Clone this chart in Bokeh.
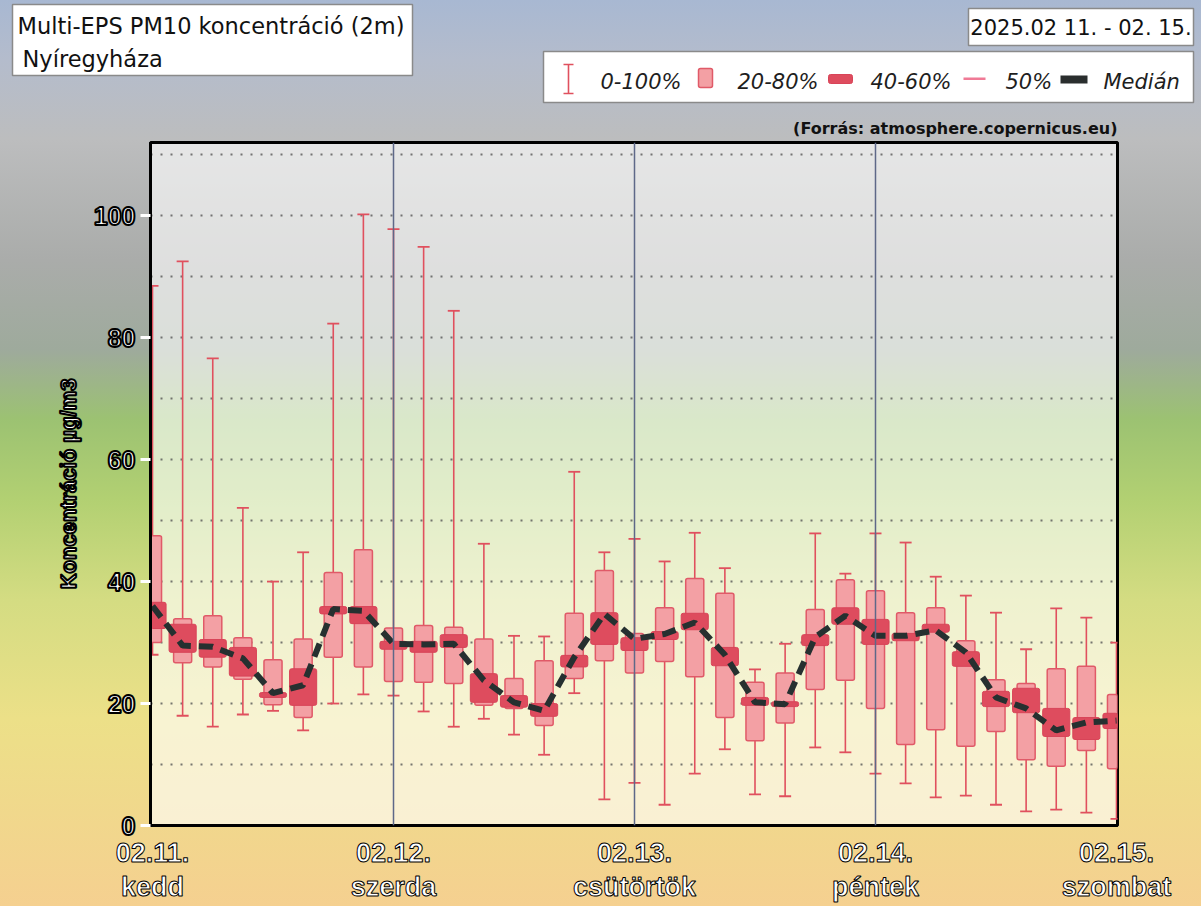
from bokeh.plotting import figure
from bokeh.layouts import column
from bokeh.models import ColumnDataSource, Span, FixedTicker, Range1d
from bokeh.core.properties import value
from bokeh.embed import file_html
from bokeh.resources import INLINE

# ---------------- data ----------------
hours = list(range(0, 97, 3))
p_min = [28, 18, 16.2, 18.2, 18.8, 15.6, 20, 21.5, 21.3, 18.7, 16.2, 17.5, 14.9, 11.6, 21.7, 4.3, 7,
         3.4, 8.5, 12.5, 5.1, 4.8, 12.8, 12, 8.5, 6.9, 4.6, 4.9, 3.4, 2.3, 2.6, 2.1, 1.1]
p20 = [30, 26.7, 26, 24, 19.8, 17.7, 27.6, 26, 23.6, 23.5, 23.3, 19.7, 19.2, 16.4, 24.1, 27, 25,
       26.9, 24.4, 17.7, 13.9, 16.8, 22.3, 23.8, 19.2, 13.3, 15.7, 13, 15.4, 10.8, 9.7, 12.3, 9.3]
p40 = [32.3, 28.4, 27.6, 24.5, 21, 19.7, 34.7, 33.1, 28.9, 28.4, 29.2, 20.2, 19.4, 17.9, 26, 29.7, 28.7,
       30.5, 32.1, 26.2, 19.7, 19.5, 29.5, 33, 29.7, 30.3, 31.7, 26.1, 19.5, 18.5, 14.6, 14.1, 15.9]
median = [36, 29.5, 29.3, 27.4, 21.7, 23, 35.5, 35.2, 29.8, 29.7, 29.8, 23.8, 20.2, 18.8, 27.6, 34.7, 30.6,
          31.4, 33.3, 28, 20.2, 19.9, 30.9, 34.4, 31.1, 31.1, 32, 28.4, 21, 19.2, 15.6, 16.9, 17.2]
p60 = [36.6, 33, 30.5, 29.2, 21.8, 25.7, 35.9, 35.9, 30.2, 30.2, 31.3, 24.9, 21.3, 20, 27.9, 34.9, 30.8,
       31.8, 34.8, 29.2, 21, 20.3, 31.3, 35.7, 33.8, 31.5, 33, 28.5, 22, 22.5, 19.2, 17.7, 18.4]
p80 = [47.5, 33.9, 34.4, 30.8, 27.2, 30.6, 41.5, 45.2, 32.4, 32.8, 32.5, 30.6, 24.1, 27, 34.8, 41.8, 31.5,
       35.7, 40.5, 38.1, 23.5, 25, 35.4, 40.3, 38.5, 34.9, 35.7, 30.3, 23.9, 23.3, 25.7, 26.1, 21.5]
p_max = [88.5, 92.5, 76.6, 52.1, 40, 44.8, 82.3, 100.2, 97.8, 94.9, 84.4, 46.2, 31.1, 31, 58, 44.8, 47,
         43.3, 48, 42.2, 25.6, 29.8, 47.9, 41.3, 47.9, 46.4, 40.8, 37.7, 34.9, 28.9, 35.6, 34.1, 30]

day_ticks = [0, 24, 48, 72, 96]
day_labels = ["02.11.\nkedd", "02.12.\nszerda", "02.13.\ncsütörtök", "02.14.\npéntek", "02.15.\nszombat"]
y_ticks = [0, 20, 40, 60, 80, 100]
y_grid = [10, 20, 30, 40, 50, 60, 70, 80, 90, 100, 110]

title_line1 = "Multi-EPS PM10 koncentráció (2m)"
title_line2 = "Nyíregyháza"
date_text = "2025.02 11. - 02. 15."
source_text = "(Forrás: atmosphere.copernicus.eu)"
legend_labels = ["0-100%", "20-80%", "40-60%", "50%", "Medián"]
y_title = "Koncentráció µg/m3"

RED = "#e0505e"
BOX_FILL, BOX_LINE = "#f3a0a4", "#e05a68"
MID_FILL, MID_LINE = "#de4c5e", "#d84458"
P50_COL = "#f07a96"
MED_COL = "#263030"

W = 1201
HDR_H = 140
MAIN_H = 766

# ---------------- header (title boxes, legend, source) in page pixels ----------------
hdr = figure(width=W, height=HDR_H, output_backend="svg", toolbar_location=None,
             x_range=Range1d(0, W), y_range=Range1d(HDR_H, 0),
             x_axis_type=None, y_axis_type=None, min_border=0, title_location=None)
hdr.frame_align = False
hdr.border_fill_alpha = 0
hdr.background_fill_alpha = 0
hdr.outline_line_color = None
hdr.grid.visible = False

hdr.quad(left=[12], right=[412], top=[4], bottom=[75], fill_color="white",
         line_color="#8a8a8a", line_width=1.5)
hdr.text(x=[17, 22], y=[25, 58], text=[title_line1, title_line2], text_align="left",
         text_baseline="middle", text_font=value("DejaVu Sans"), text_font_size="22.5px",
         text_color="#111111")
hdr.quad(left=[968], right=[1193], top=[8], bottom=[45], fill_color="white",
         line_color="#8a8a8a", line_width=1.5)
hdr.text(x=[1080.5], y=[27], text=[date_text], text_align="center", text_baseline="middle",
         text_font=value("DejaVu Sans"), text_font_size="21px", text_color="#111111")

# legend
hdr.quad(left=[543], right=[1193], top=[51], bottom=[102], fill_color="white",
         line_color="#8a8a8a", line_width=1.5)
hdr.segment(x0=[568, 563, 563], y0=[64, 64, 93], x1=[568, 573, 573], y1=[93, 64, 93],
            line_color=RED, line_width=1.6)
hdr.quad(left=[698], right=[712], top=[68], bottom=[87], fill_color=BOX_FILL,
         line_color=BOX_LINE, line_width=1.5, border_radius=2)
hdr.quad(left=[828], right=[852], top=[74], bottom=[83], fill_color=MID_FILL,
         line_color=MID_LINE, line_width=1, border_radius=2)
hdr.quad(left=[963], right=[985], top=[77], bottom=[79.5], fill_color=P50_COL, line_color=None)
hdr.quad(left=[1060], right=[1087], top=[75], bottom=[83], fill_color="#2a2e2e", line_color=None)
hdr.text(x=[600, 737, 870, 1005, 1103], y=[81] * 5, text=legend_labels, text_align="left",
         text_baseline="middle", text_font=value("DejaVu Sans"), text_font_style="italic",
         text_font_size="21px", text_color="#1e1e1e")

hdr.text(x=[1117], y=[128], text=[source_text], text_align="right", text_baseline="middle",
         text_font=value("DejaVu Sans"), text_font_style="bold", text_font_size="16px",
         text_color="#111111")

# ---------------- main chart ----------------
p = figure(width=W, height=MAIN_H, output_backend="svg", toolbar_location=None,
           x_range=Range1d(-0.2, 96.1), y_range=Range1d(0, 112), title_location=None,
           min_border_left=150, min_border_right=W - 1117, min_border_top=2,
           min_border_bottom=MAIN_H - 2 - 683)
p.frame_align = False
p.border_fill_alpha = 0
p.background_fill_color = "white"
p.background_fill_alpha = 0.62
p.outline_line_color = "black"
p.outline_line_width = 3

src = ColumnDataSource(dict(t=hours, pmin=p_min, p20=p20, p40=p40, med=median, p60=p60, p80=p80, pmax=p_max))

p.segment(x0="t", y0="pmin", x1="t", y1="pmax", source=src, line_color=RED, line_width=1.6)
p.scatter(x="t", y="pmin", source=src, marker="dash", size=12, line_color=RED, line_width=1.8)
p.scatter(x="t", y="pmax", source=src, marker="dash", size=12, line_color=RED, line_width=1.8)
p.vbar(x="t", width=1.8, bottom="p20", top="p80", source=src, fill_color=BOX_FILL,
       line_color=BOX_LINE, line_width=1.5, border_radius=2)
p.vbar(x="t", width=2.7, bottom="p40", top="p60", source=src, fill_color=MID_FILL,
       line_color=MID_LINE, line_width=1, border_radius=2)
p.line(x="t", y="med", source=src, line_color=MED_COL, line_width=6, line_dash="14 8")

for d in day_ticks[1:-1]:
    p.add_layout(Span(location=d, dimension="height", line_color="#5e6888", line_width=1.5))

p.xgrid.visible = False
p.ygrid.ticker = FixedTicker(ticks=y_grid)
p.ygrid.grid_line_color = "#555555"
p.ygrid.grid_line_alpha = 0.8
p.ygrid.grid_line_width = 2
p.ygrid.grid_line_dash = "2 8"

AX_FONT = "Liberation Sans"
for ax in (p.xaxis[0], p.yaxis[0]):
    ax.axis_line_width = 3
    ax.axis_line_color = "black"
    ax.major_label_text_color = "white"
    ax.major_label_text_font = AX_FONT
    ax.major_label_text_font_style = "bold"
    ax.major_label_text_outline_color = "black"

# y axis: invisible (empty) minor ticks only fix the stroke width used for label outlines
p.yaxis.minor_tick_line_color = "black"
p.yaxis.minor_tick_line_width = 2
p.yaxis.minor_tick_in = 0
p.yaxis.minor_tick_out = 0
p.yaxis.ticker = FixedTicker(ticks=y_ticks, minor_ticks=[])
p.yaxis.major_tick_out = 10
p.yaxis.major_tick_in = 0
p.yaxis.major_tick_line_color = "white"
p.yaxis.major_tick_line_width = 3
p.yaxis.major_label_text_font_size = "25px"
p.yaxis.major_label_standoff = 5
p.yaxis.axis_label = y_title
p.yaxis.axis_label_text_font = AX_FONT
p.yaxis.axis_label_text_font_style = "bold"
p.yaxis.axis_label_text_font_size = "22px"
p.yaxis.axis_label_text_color = "white"
p.yaxis.axis_label_text_outline_color = "black"
p.yaxis.axis_label_standoff = 10

p.xaxis.ticker = FixedTicker(ticks=day_ticks, minor_ticks=[])
p.xaxis.major_label_overrides = {t: lab for t, lab in zip(day_ticks, day_labels)}
p.xaxis.minor_tick_line_color = None
p.xaxis.major_tick_out = 0
p.xaxis.major_tick_in = 0
p.xaxis.major_tick_line_width = 1
p.xaxis.major_label_text_font_size = "27px"
p.xaxis.major_label_text_line_height = 1.15
p.xaxis.major_label_standoff = 12

layout = column(hdr, p, spacing=0)
layout.styles = {"background": "linear-gradient(180deg, #a8b8d2 0%, #b4bccc 6.6%, #bcbdbe 15.4%, "
                               "#aaacaa 28.7%, #9eaa9c 38.6%, #9cc272 46.3%, #b2d072 55.1%, "
                               "#d4dc82 66.2%, #ece088 79.4%, #f5d090 100%)"}

open("out.html", "w").write(file_html(layout, INLINE))
